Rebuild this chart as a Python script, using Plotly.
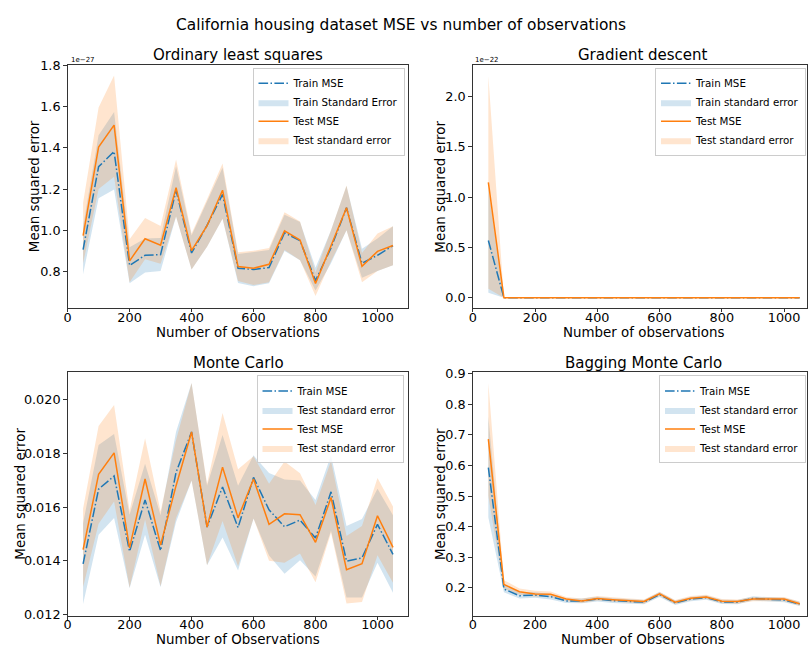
import plotly.graph_objects as go

W, H = 808, 651
FONT = "DejaVu Sans"
BLUE = "#1f77b4"
ORANGE = "#ff7f0e"
BLUE_FILL = "rgba(31,119,180,0.2)"
ORANGE_FILL = "rgba(255,127,14,0.2)"

n_obs = [50, 100, 150, 200, 250, 300, 350, 400, 450, 500, 550,
         600, 650, 700, 750, 800, 850, 900, 950, 1000, 1050]
x_ticks = [0, 200, 400, 600, 800, 1000]

# ---- Ordinary least squares (values in units of 1e-27) ----
ols_train_mse = [0.906, 1.308, 1.382, 0.830, 0.879, 0.882, 1.193, 0.890, 1.024, 1.174, 0.816,
                 0.810, 0.819, 0.988, 0.950, 0.756, 0.915, 1.109, 0.840, 0.879, 0.926]
ols_train_hi = [1.02, 1.461, 1.573, 0.918, 0.960, 0.963, 1.310, 0.975, 1.140, 1.303, 0.885,
                0.895, 0.905, 1.075, 1.040, 0.819, 1.000, 1.215, 0.910, 0.960, 1.020]
ols_train_lo = [0.787, 1.155, 1.198, 0.743, 0.795, 0.803, 1.067, 0.810, 0.920, 1.056, 0.745,
                0.729, 0.743, 0.900, 0.855, 0.708, 0.840, 1.000, 0.770, 0.803, 0.830]
ols_test_mse = [0.974, 1.403, 1.510, 0.852, 0.959, 0.928, 1.206, 0.901, 1.022, 1.194, 0.824,
                0.816, 0.835, 0.997, 0.953, 0.742, 0.925, 1.109, 0.825, 0.898, 0.926]
ols_test_hi = [1.134, 1.595, 1.750, 0.956, 1.059, 1.021, 1.343, 0.985, 1.150, 1.324, 0.893,
               0.901, 0.914, 1.087, 1.043, 0.795, 1.000, 1.217, 0.890, 0.985, 1.020]
ols_test_lo = [0.840, 1.200, 1.260, 0.748, 0.860, 0.838, 1.067, 0.810, 0.920, 1.056, 0.754,
               0.735, 0.748, 0.905, 0.855, 0.682, 0.850, 1.000, 0.748, 0.803, 0.830]

# ---- Gradient descent (values in units of 1e-22) ----
gd_train_mse = [0.569, 0, 0, 0, 0, 0, 0, 0, 0, 0, 0, 0, 0, 0, 0, 0, 0, 0, 0, 0, 0]
gd_train_hi = [1.09, 0, 0, 0, 0, 0, 0, 0, 0, 0, 0, 0, 0, 0, 0, 0, 0, 0, 0, 0, 0]
gd_train_lo = [0.05, 0, 0, 0, 0, 0, 0, 0, 0, 0, 0, 0, 0, 0, 0, 0, 0, 0, 0, 0, 0]
gd_test_mse = [1.148, 0, 0, 0, 0, 0, 0, 0, 0, 0, 0, 0, 0, 0, 0, 0, 0, 0, 0, 0, 0]
gd_test_hi = [2.205, 0, 0, 0, 0, 0, 0, 0, 0, 0, 0, 0, 0, 0, 0, 0, 0, 0, 0, 0, 0]
gd_test_lo = [0.09, 0, 0, 0, 0, 0, 0, 0, 0, 0, 0, 0, 0, 0, 0, 0, 0, 0, 0, 0, 0]

# ---- Monte Carlo ----
mc_train_mse = [0.01389, 0.01667, 0.01716, 0.01435, 0.01627, 0.01438, 0.01730, 0.01880, 0.01526, 0.01675, 0.01524,
                0.01711, 0.01590, 0.01527, 0.01552, 0.01485, 0.01657, 0.01399, 0.01411, 0.01536, 0.01424]
mc_train_hi = [0.01540, 0.01832, 0.01873, 0.01572, 0.01762, 0.01570, 0.01881, 0.02063, 0.01680, 0.01869, 0.01680,
               0.01793, 0.01727, 0.01703, 0.01699, 0.01627, 0.01793, 0.01530, 0.01556, 0.01669, 0.01570]
mc_train_lo = [0.01239, 0.01497, 0.01560, 0.01298, 0.01497, 0.01302, 0.01545, 0.01699, 0.01384, 0.01487, 0.01364,
               0.01558, 0.01420, 0.01352, 0.01402, 0.01342, 0.01512, 0.01263, 0.01263, 0.01393, 0.01281]
mc_test_mse = [0.01442, 0.01722, 0.01802, 0.01448, 0.01705, 0.01459, 0.01680, 0.01880, 0.01526, 0.01749, 0.01560,
               0.01705, 0.01536, 0.01575, 0.01572, 0.01469, 0.01636, 0.01367, 0.01389, 0.01568, 0.01450]
mc_test_hi = [0.01595, 0.01902, 0.01981, 0.01587, 0.01857, 0.01584, 0.01850, 0.02063, 0.01687, 0.01951, 0.01741,
              0.01790, 0.01687, 0.01770, 0.01726, 0.01608, 0.01772, 0.01493, 0.01530, 0.01709, 0.01602]
mc_test_lo = [0.01303, 0.01538, 0.01621, 0.01300, 0.01554, 0.01305, 0.01560, 0.01699, 0.01384, 0.01548, 0.01380,
              0.01558, 0.01400, 0.01393, 0.01427, 0.01320, 0.01505, 0.01241, 0.01247, 0.01421, 0.01318]

# ---- Bagging Monte Carlo ----
bmc_train_mse = [0.593, 0.196, 0.174, 0.176, 0.171, 0.157, 0.157, 0.163, 0.158, 0.155, 0.153,
                 0.178, 0.151, 0.163, 0.168, 0.154, 0.153, 0.165, 0.163, 0.160, 0.147]
bmc_train_hi = [0.760, 0.210, 0.185, 0.185, 0.180, 0.165, 0.165, 0.171, 0.166, 0.162, 0.160,
                0.186, 0.158, 0.170, 0.175, 0.161, 0.160, 0.172, 0.170, 0.167, 0.154]
bmc_train_lo = [0.430, 0.185, 0.165, 0.167, 0.162, 0.150, 0.149, 0.155, 0.150, 0.148, 0.146,
                0.170, 0.144, 0.156, 0.161, 0.147, 0.146, 0.158, 0.156, 0.153, 0.140]
bmc_test_mse = [0.686, 0.211, 0.187, 0.180, 0.179, 0.163, 0.157, 0.165, 0.161, 0.159, 0.155,
                0.180, 0.153, 0.166, 0.170, 0.156, 0.155, 0.163, 0.162, 0.163, 0.148]
bmc_test_hi = [0.870, 0.225, 0.198, 0.190, 0.188, 0.170, 0.165, 0.173, 0.169, 0.166, 0.162,
               0.187, 0.160, 0.173, 0.177, 0.163, 0.162, 0.170, 0.169, 0.170, 0.155]
bmc_test_lo = [0.500, 0.198, 0.177, 0.171, 0.170, 0.156, 0.150, 0.158, 0.154, 0.152, 0.148,
               0.173, 0.146, 0.159, 0.163, 0.149, 0.148, 0.156, 0.155, 0.156, 0.141]

main_title = "California housing dataset MSE vs number of observations"
panel_titles = ["Ordinary least squares", "Gradient descent", "Monte Carlo", "Bagging Monte Carlo"]
x_titles = ["Number of Observations", "Number of observations",
            "Number of Observations", "Number of Observations"]
y_title = "Mean squared error"
legend_labels = [
    ["Train MSE", "Train Standard Error", "Test MSE", "Test standard error"],
    ["Train MSE", "Train standard error", "Test MSE", "Test standard error"],
    ["Train MSE", "Test standard error", "Test MSE", "Test standard error"],
    ["Train MSE", "Test standard error", "Test MSE", "Test standard error"],
]

panels = [
    (ols_train_mse, ols_train_lo, ols_train_hi, ols_test_mse, ols_test_lo, ols_test_hi),
    (gd_train_mse, gd_train_lo, gd_train_hi, gd_test_mse, gd_test_lo, gd_test_hi),
    (mc_train_mse, mc_train_lo, mc_train_hi, mc_test_mse, mc_test_lo, mc_test_hi),
    (bmc_train_mse, bmc_train_lo, bmc_train_hi, bmc_test_mse, bmc_test_lo, bmc_test_hi),
]


def px_x(p):
    return p / W


def px_y(p):
    return 1 - p / H


# layout geometry (pixels)
boxes = [  # left, right, top, bottom
    (64, 407, 59, 307),
    (471.7, 807.5, 59, 307),
    (64, 407, 372.3, 621),
    (471.7, 807.5, 372.3, 621),
]
x_ranges = [[0, 1100], [0, 1072], [0, 1100], [0, 1072]]
y_ranges = [[0.624, 1.802], [-0.101, 2.317], [0.01196, 0.02104], [0.109, 0.906]]
y_ticks = [[0.8, 1.0, 1.2, 1.4, 1.6, 1.8], [0.0, 0.5, 1.0, 1.5, 2.0],
           [0.012, 0.014, 0.016, 0.018, 0.020], [0.2, 0.3, 0.4, 0.5, 0.6, 0.7, 0.8, 0.9]]
y_fmt = [".1f", ".1f", ".3f", ".1f"]
legend_pos = [(403, 62), (807, 62), (402, 376), (807, 376)]
title_centers = [(235.5, 49), (643, 49), (235.5, 363), (643, 363)]
xlabel_pos = [(235.5, 332), (643, 332), (235.5, 645), (643, 645)]
ylabel_x = [31, 439, 17, 439]

DASHDOT = "9.6px,2.4px,1.5px,2.4px"

fig = go.Figure()
layout = dict(
    width=W, height=H,
    margin=dict(l=0, r=0, t=0, b=0),
    paper_bgcolor="white", plot_bgcolor="white",
    font=dict(family=FONT, color="black"),
    annotations=[],
)

for i, (trm, trl, trh, tem, tel, teh) in enumerate(panels):
    k = "" if i == 0 else str(i + 1)
    xa, ya = "x" + k, "y" + k
    lg = "legend" + k
    labels = legend_labels[i]
    # bands first (drawn beneath lines)
    fig.add_trace(go.Scatter(
        x=n_obs + n_obs[::-1], y=trh + trl[::-1], fill="toself", fillcolor=BLUE_FILL,
        mode="lines", line=dict(width=0, color="rgba(0,0,0,0)"), name=labels[1],
        legendrank=2, legend=lg, xaxis=xa, yaxis=ya, hoverinfo="skip"))
    fig.add_trace(go.Scatter(
        x=n_obs + n_obs[::-1], y=teh + tel[::-1], fill="toself", fillcolor=ORANGE_FILL,
        mode="lines", line=dict(width=0, color="rgba(0,0,0,0)"), name=labels[3],
        legendrank=4, legend=lg, xaxis=xa, yaxis=ya, hoverinfo="skip"))
    fig.add_trace(go.Scatter(
        x=n_obs, y=trm, mode="lines", line=dict(color=BLUE, width=1.5, dash=DASHDOT),
        name=labels[0], legendrank=1, legend=lg, xaxis=xa, yaxis=ya))
    fig.add_trace(go.Scatter(
        x=n_obs, y=tem, mode="lines", line=dict(color=ORANGE, width=1.5),
        name=labels[2], legendrank=3, legend=lg, xaxis=xa, yaxis=ya))

    l, r, t, b = boxes[i]
    axis_common = dict(showline=True, mirror=True, linecolor="#333333", linewidth=1,
                       showgrid=False, zeroline=False, ticks="outside", ticklen=3.5,
                       tickwidth=1, tickcolor="#333333",
                       tickfont=dict(family=FONT, size=12.8, color="black"))
    layout["xaxis" + k] = dict(axis_common, domain=[px_x(l), px_x(r)], range=x_ranges[i],
                               tickvals=x_ticks, anchor=ya, ticklabelstandoff=-6)
    layout["yaxis" + k] = dict(axis_common, domain=[px_y(b), px_y(t)], range=y_ranges[i],
                               tickvals=y_ticks[i], tickformat=y_fmt[i], anchor=xa)
    lx, ly = legend_pos[i]
    layout[lg] = dict(x=px_x(lx), y=px_y(ly), xanchor="right", yanchor="top",
                      bgcolor="rgba(255,255,255,0.8)", bordercolor="#cccccc", borderwidth=1,
                      font=dict(family=FONT, size=10.3, color="black"),
                      tracegroupgap=0, itemwidth=30, traceorder="normal")
    cx, cy = title_centers[i]
    layout["annotations"].append(dict(
        text=panel_titles[i], x=px_x(cx), y=px_y(cy), xref="paper", yref="paper",
        xanchor="center", yanchor="middle", showarrow=False,
        font=dict(family=FONT, size=15, color="black")))
    xx, xy = xlabel_pos[i]
    layout["annotations"].append(dict(
        text=x_titles[i], x=px_x(xx), y=px_y(xy), xref="paper", yref="paper",
        xanchor="center", yanchor="middle", showarrow=False,
        font=dict(family=FONT, size=13.4, color="black")))
    layout["annotations"].append(dict(
        text=y_title, x=px_x(ylabel_x[i]), y=px_y((t + b) / 2), xref="paper", yref="paper",
        xanchor="center", yanchor="middle", showarrow=False, textangle=-90,
        font=dict(family=FONT, size=13.4, color="black")))

# offset (scale) labels
for txt, (ox, oy) in [("1e\u221227", (65, 54)), ("1e\u221222", (472, 54))]:
    layout["annotations"].append(dict(
        text=txt, x=px_x(ox), y=px_y(oy), xref="paper", yref="paper",
        xanchor="left", yanchor="middle", showarrow=False,
        font=dict(family=FONT, size=7, color="black")))

layout["annotations"].append(dict(
    text=main_title, x=px_x(399), y=px_y(18), xref="paper", yref="paper",
    xanchor="center", yanchor="middle", showarrow=False,
    font=dict(family=FONT, size=15.4, color="black")))

fig.update_layout(**layout)
fig.write_html(
    "out.html",
    config={"displayModeBar": False},
    post_script="document.body.style.margin='0';document.body.style.overflow='hidden';",
)
